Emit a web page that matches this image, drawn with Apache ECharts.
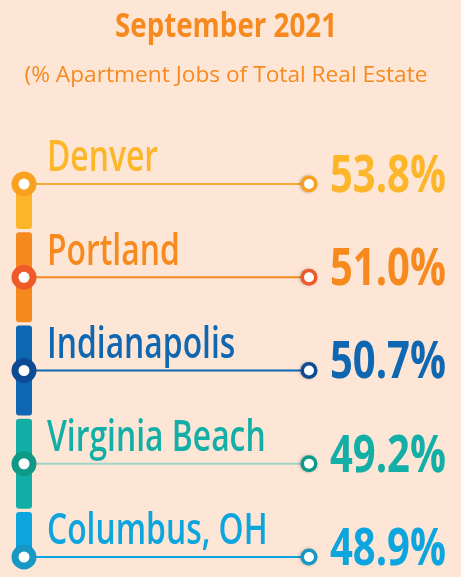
<!DOCTYPE html>
<html>
<head>
<meta charset="utf-8">
<script src="https://cdn.jsdelivr.net/npm/echarts@6/dist/echarts.min.js"></script>
<style>
html,body{margin:0;padding:0;background:#fde6d6;}
#c{width:461px;height:577px;}
</style>
</head>
<body>
<div id="c"></div>
<script>
const titleText = 'September 2021';
const subtitleText = '(% Apartment Jobs of Total Real Estate';
const cities = ['Denver', 'Portland', 'Indianapolis', 'Virginia Beach', 'Columbus, OH'];
const shares = [53.8, 51.0, 50.7, 49.2, 48.9];

const mainColors = ['#fdb62a', '#f68a1f', '#0f67b1', '#13afa7', '#0ca5de'];
const ringColors = ['#f7a11e', '#ee5a28', '#0c4a93', '#0f9a87', '#1797c3'];
const lineColors = ['#f9a935', '#f68a1f', '#0f67b1', '#a2d4c8', '#0ca5de'];
const FAM = '"Open Sans", "Noto Sans", "DejaVu Sans", sans-serif';

const titleFont = 'bold 34px ' + FAM;
const subFont = 'normal 21px ' + FAM;
const nameFont = '600 43px ' + FAM;
const valueFont = 'bold 52px ' + FAM;

// condense the fonts horizontally to mimic the narrow typeface of the original
const ctx = document.createElement('canvas').getContext('2d');
function widthOf(text, font) { ctx.font = font; return ctx.measureText(text).width; }
const titleScale = 222 / widthOf(titleText, titleFont);
const subScale = 403 / widthOf(subtitleText, subFont);
const nameScale = 111 / widthOf('Denver', nameFont);
const valueScale = 116 / widthOf('53.8%', valueFont);

const chart = echarts.init(document.getElementById('c'));
const last = cities.length - 1;

chart.setOption({
  backgroundColor: '#fde6d6',
  animation: false,
  graphic: [
    { type: 'text', x: 226, y: 27, scaleX: titleScale,
      style: { text: titleText, fill: '#f68a1f', font: titleFont, textAlign: 'center', textVerticalAlign: 'middle' } },
    { type: 'text', x: 226, y: 76, scaleX: subScale,
      style: { text: subtitleText, fill: '#f68a1f', font: subFont, textAlign: 'center', textVerticalAlign: 'middle' } }
  ],
  grid: { left: 24, right: 152, top: 184, bottom: 20 },
  xAxis: { type: 'value', min: 0, max: 100, show: false },
  yAxis: { type: 'category', data: cities, inverse: true, boundaryGap: false, show: false },
  series: [{
    type: 'custom',
    clip: false,
    data: shares.map((v, i) => [v, i]),
    encode: { x: 0, y: 1 },
    renderItem: function (params, api) {
      const i = params.dataIndex;
      const p = api.coord([0, i]);
      const x0 = p[0], y = p[1];
      const cs = params.coordSys;
      const x1 = cs.x + cs.width;
      const top = i === 0 ? y : y - 45;
      const bottom = i === last ? y : y + 45;
      return {
        type: 'group',
        children: [
          { type: 'rect', shape: { x: x0 - 8, y: top, width: 16, height: bottom - top, r: 3 },
            style: { fill: mainColors[i] } },
          { type: 'line', shape: { x1: x0, y1: y, x2: x1, y2: y },
            style: { stroke: lineColors[i], lineWidth: 2 } },
          { type: 'circle', shape: { cx: x0, cy: y, r: 12.5 },
            style: { fill: ringColors[i] } },
          { type: 'circle', shape: { cx: x0, cy: y, r: 5.5 },
            style: { fill: '#ffffff' } },
          { type: 'circle', shape: { cx: x1, cy: y, r: 8.5 },
            style: { fill: ringColors[i], shadowBlur: 3, shadowColor: 'rgba(0,0,0,0.25)', shadowOffsetX: -1 } },
          { type: 'circle', shape: { cx: x1, cy: y, r: 5 },
            style: { fill: '#ffffff' } },
          { type: 'text', x: x0 + 23, y: y - 25, scaleX: nameScale,
            style: { text: cities[i], fill: mainColors[i], font: nameFont,
              textAlign: 'left', textVerticalAlign: 'middle' } },
          { type: 'text', x: x1 + 21, y: y - 7, scaleX: valueScale,
            style: { text: api.value(0).toFixed(1) + '%', fill: mainColors[i], font: valueFont,
              textAlign: 'left', textVerticalAlign: 'middle' } }
        ]
      };
    }
  }]
});
</script>
</body>
</html>
